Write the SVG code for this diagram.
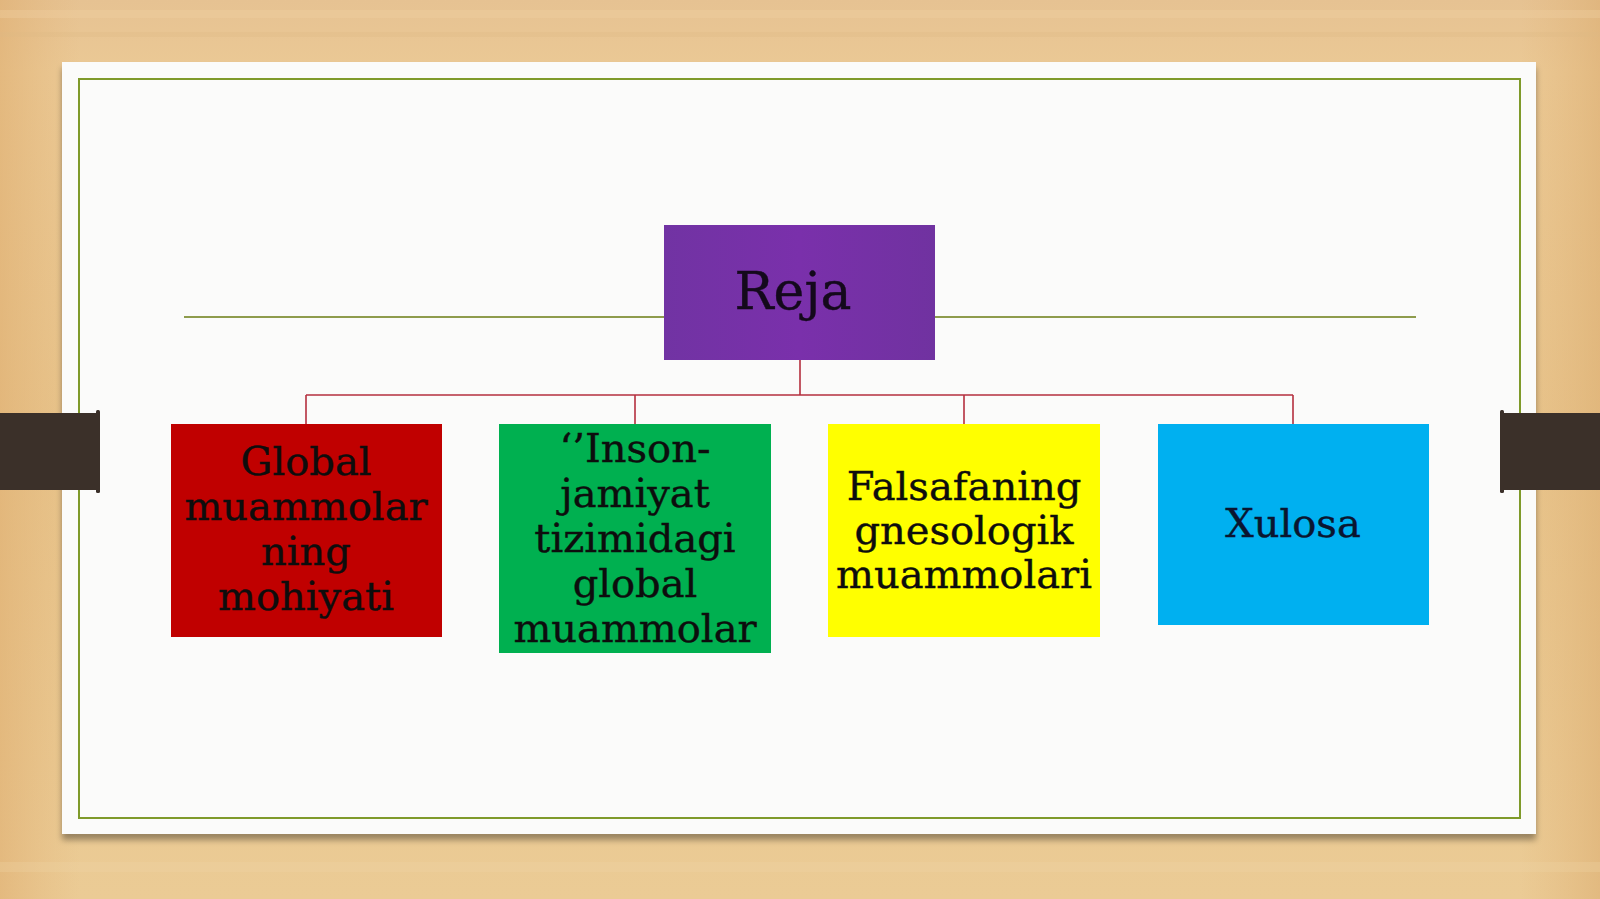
<svg xmlns="http://www.w3.org/2000/svg" width="1600" height="899" viewBox="0 0 1600 899">
  <defs>
    <linearGradient id="wood" x1="0" y1="0" x2="0" y2="1">
      <stop offset="0" stop-color="#e6c292"/>
      <stop offset="0.08" stop-color="#ebc995"/>
      <stop offset="0.5" stop-color="#e8c48b"/>
      <stop offset="1" stop-color="#ebcb95"/>
    </linearGradient>
    <linearGradient id="woodL" x1="0" y1="0" x2="1" y2="0">
      <stop offset="0" stop-color="#dfae70" stop-opacity="0.6"/>
      <stop offset="0.05" stop-color="#e2b57a" stop-opacity="0"/>
      <stop offset="0.95" stop-color="#e2b57a" stop-opacity="0"/>
      <stop offset="1" stop-color="#dcae72" stop-opacity="0.6"/>
    </linearGradient>
    <linearGradient id="purpleG" x1="0" y1="0" x2="1" y2="0">
      <stop offset="0" stop-color="#7133a3"/>
      <stop offset="0.5" stop-color="#7a30ab"/>
      <stop offset="1" stop-color="#7032a0"/>
    </linearGradient>
    <filter id="shadow" x="-5%" y="-5%" width="110%" height="115%">
      <feGaussianBlur in="SourceAlpha" stdDeviation="3"/>
      <feOffset dx="0" dy="6" result="b"/>
      <feComponentTransfer><feFuncA type="linear" slope="0.35"/></feComponentTransfer>
      <feMerge><feMergeNode/><feMergeNode in="SourceGraphic"/></feMerge>
    </filter>
  </defs>
  <style>
    .lbl { font-family: "DejaVu Serif", "Liberation Serif", serif; font-size: 40px; fill: #0d0d0d; text-anchor: middle; stroke: #0d0d0d; stroke-width: 0.4; }
    .title { font-family: "DejaVu Serif", "Liberation Serif", serif; font-size: 52px; fill: #14091c; text-anchor: middle; stroke: #14091c; stroke-width: 0.4; }
    .conn { fill: none; stroke: #b5303f; stroke-width: 1.6; }
    .rule { stroke: #8e9c4c; stroke-width: 2.2; }
    .tab { fill: #3b3029; }
  </style>

  <!-- background -->
  <rect x="0" y="0" width="1600" height="899" fill="url(#wood)"/>
  <rect x="0" y="0" width="1600" height="899" fill="url(#woodL)"/>
  <rect x="0" y="10" width="1600" height="8" fill="#f0d2a4" opacity="0.35"/>
  <rect x="0" y="32" width="1600" height="5" fill="#dfb984" opacity="0.3"/>
  <rect x="0" y="862" width="1600" height="10" fill="#f0d3a4" opacity="0.3"/>

  <!-- card -->
  <g id="card">
    <rect x="62" y="62" width="1474" height="772" fill="#fbfbfa" filter="url(#shadow)"/>
    <rect x="79" y="79" width="1441" height="739" fill="none" stroke="#7f9a2a" stroke-width="2"/>
  </g>

  <!-- tabs -->
  <g id="tab-left">
    <rect class="tab" x="0" y="413" width="98" height="77"/>
    <rect class="tab" x="96" y="410" width="4" height="83" rx="1.5"/>
  </g>
  <g id="tab-right">
    <rect class="tab" x="1502" y="413" width="98" height="77"/>
    <rect class="tab" x="1500" y="410" width="4" height="83" rx="1.5"/>
  </g>

  <!-- connectors -->
  <g id="connectors">
    <line class="rule" x1="184" y1="317" x2="664" y2="317"/>
    <line class="rule" x1="935" y1="317" x2="1416" y2="317"/>
    <path class="conn" d="M800,360 V395 M306,395 H1293 M306,395 V424 M635,395 V424 M964,395 V424 M1293,395 V424"/>
  </g>

  <g id="node-reja">
    <rect x="664" y="225" width="271" height="135" fill="url(#purpleG)"/>
    <text class="title" x="793" y="309">Reja</text>
  </g>

  <g id="node-global">
    <rect x="171" y="424" width="271" height="213" fill="#c00000"/>
    <text class="lbl"><tspan x="306" y="475">Global</tspan><tspan x="306" y="520">muammolar</tspan><tspan x="306" y="565">ning</tspan><tspan x="306" y="610">mohiyati</tspan></text>
  </g>

  <g id="node-inson">
    <rect x="499" y="424" width="272" height="229" fill="#00b050"/>
    <text class="lbl"><tspan x="635" y="462">‘’Inson-</tspan><tspan x="635" y="507">jamiyat</tspan><tspan x="635" y="552">tizimidagi</tspan><tspan x="635" y="597">global</tspan><tspan x="635" y="642">muammolar</tspan></text>
  </g>

  <g id="node-falsafa">
    <rect x="828" y="424" width="272" height="213" fill="#ffff00"/>
    <text class="lbl"><tspan x="964" y="500">Falsafaning</tspan><tspan x="964" y="544">gnesologik</tspan><tspan x="964" y="588">muammolari</tspan></text>
  </g>

  <g id="node-xulosa">
    <rect x="1158" y="424" width="271" height="201" fill="#00b0f0"/>
    <text class="lbl" x="1293" y="537" style="fill:#0a1530;stroke:#0a1530">Xulosa</text>
  </g>
</svg>
